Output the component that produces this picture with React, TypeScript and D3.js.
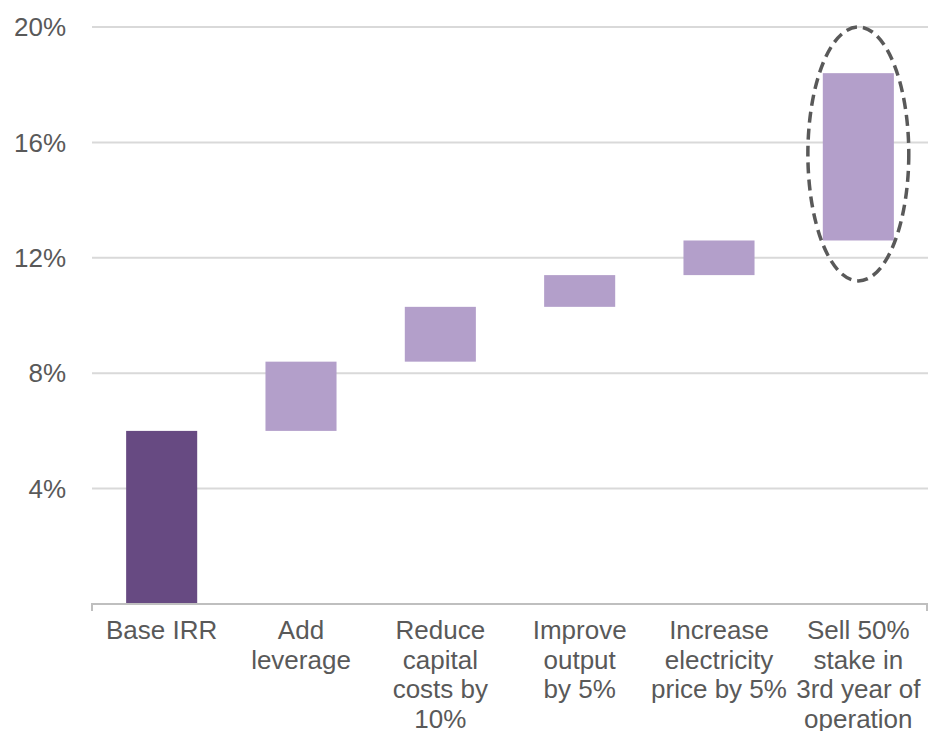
import React from "react";
import * as d3 from "d3";

const categories = [
  ["Base IRR"],
  ["Add", "leverage"],
  ["Reduce", "capital", "costs by", "10%"],
  ["Improve", "output", "by 5%"],
  ["Increase", "electricity", "price by 5%"],
  ["Sell 50%", "stake in", "3rd year of", "operation"],
];
const starts = [0, 6.0, 8.4, 10.3, 11.4, 12.6];
const ends = [6.0, 8.4, 10.3, 11.4, 12.6, 18.4];
const yTicks = [4, 8, 12, 16, 20];
// dashed ellipse highlighting the last step (percent range)
const highlight = { index: 5, low: 11.2, high: 20 };

const width = 928;
const height = 731;
const margin = { top: 27, right: 0, bottom: 127, left: 92 };
const font = "'Liberation Sans', Arial, sans-serif";

export default function App() {
  const x = d3
    .scaleBand<number>()
    .domain(d3.range(categories.length))
    .range([margin.left, width - margin.right])
    .paddingInner(0.49)
    .paddingOuter(0.245);
  const y = d3
    .scaleLinear()
    .domain([0, 20])
    .range([height - margin.bottom, margin.top]);

  const bw = x.bandwidth();
  const hx = (x(highlight.index) ?? 0) + bw / 2;
  const hcy = (y(highlight.low) + y(highlight.high)) / 2;
  const hry = (y(highlight.low) - y(highlight.high)) / 2;

  return (
    <svg
      width={width}
      height={height}
      style={{ position: "absolute", left: 0, top: 0, background: "#fff" }}
    >
      {/* gridlines */}
      {yTicks.map((t) => (
        <line
          key={t}
          x1={margin.left}
          x2={width}
          y1={y(t)}
          y2={y(t)}
          stroke="#d9d9d9"
          strokeWidth={2}
        />
      ))}
      {yTicks.map((t) => (
        <text
          key={"l" + t}
          x={66}
          y={y(t)}
          dy="0.35em"
          textAnchor="end"
          fontFamily={font}
          fontSize={26}
          fill="#595959"
        >
          {t}%
        </text>
      ))}

      {/* bars */}
      {categories.map((_, i) => (
        <rect
          key={i}
          x={x(i)}
          width={bw}
          y={y(ends[i])}
          height={y(starts[i]) - y(ends[i])}
          fill={i === 0 ? "#674a82" : "#b39fca"}
        />
      ))}

      {/* x axis */}
      <path
        d={`M${margin.left},${y(0) + 7}V${y(0)}H${width - 1}V${y(0) + 7}`}
        fill="none"
        stroke="#bfbfbf"
        strokeWidth={2}
      />
      {categories.map((lines, i) => (
        <text
          key={"c" + i}
          textAnchor="middle"
          fontFamily={font}
          fontSize={26}
          fill="#595959"
        >
          {lines.map((s, j) => (
            <tspan key={j} x={(x(i) ?? 0) + bw / 2} y={y(0) + 35 + j * 29.5}>
              {s}
            </tspan>
          ))}
        </text>
      ))}

      {/* highlight */}
      <ellipse
        cx={hx}
        cy={hcy}
        rx={bw * 0.71}
        ry={hry}
        fill="none"
        stroke="#595959"
        strokeWidth={3.5}
        strokeDasharray="11 6"
      />
    </svg>
  );
}
